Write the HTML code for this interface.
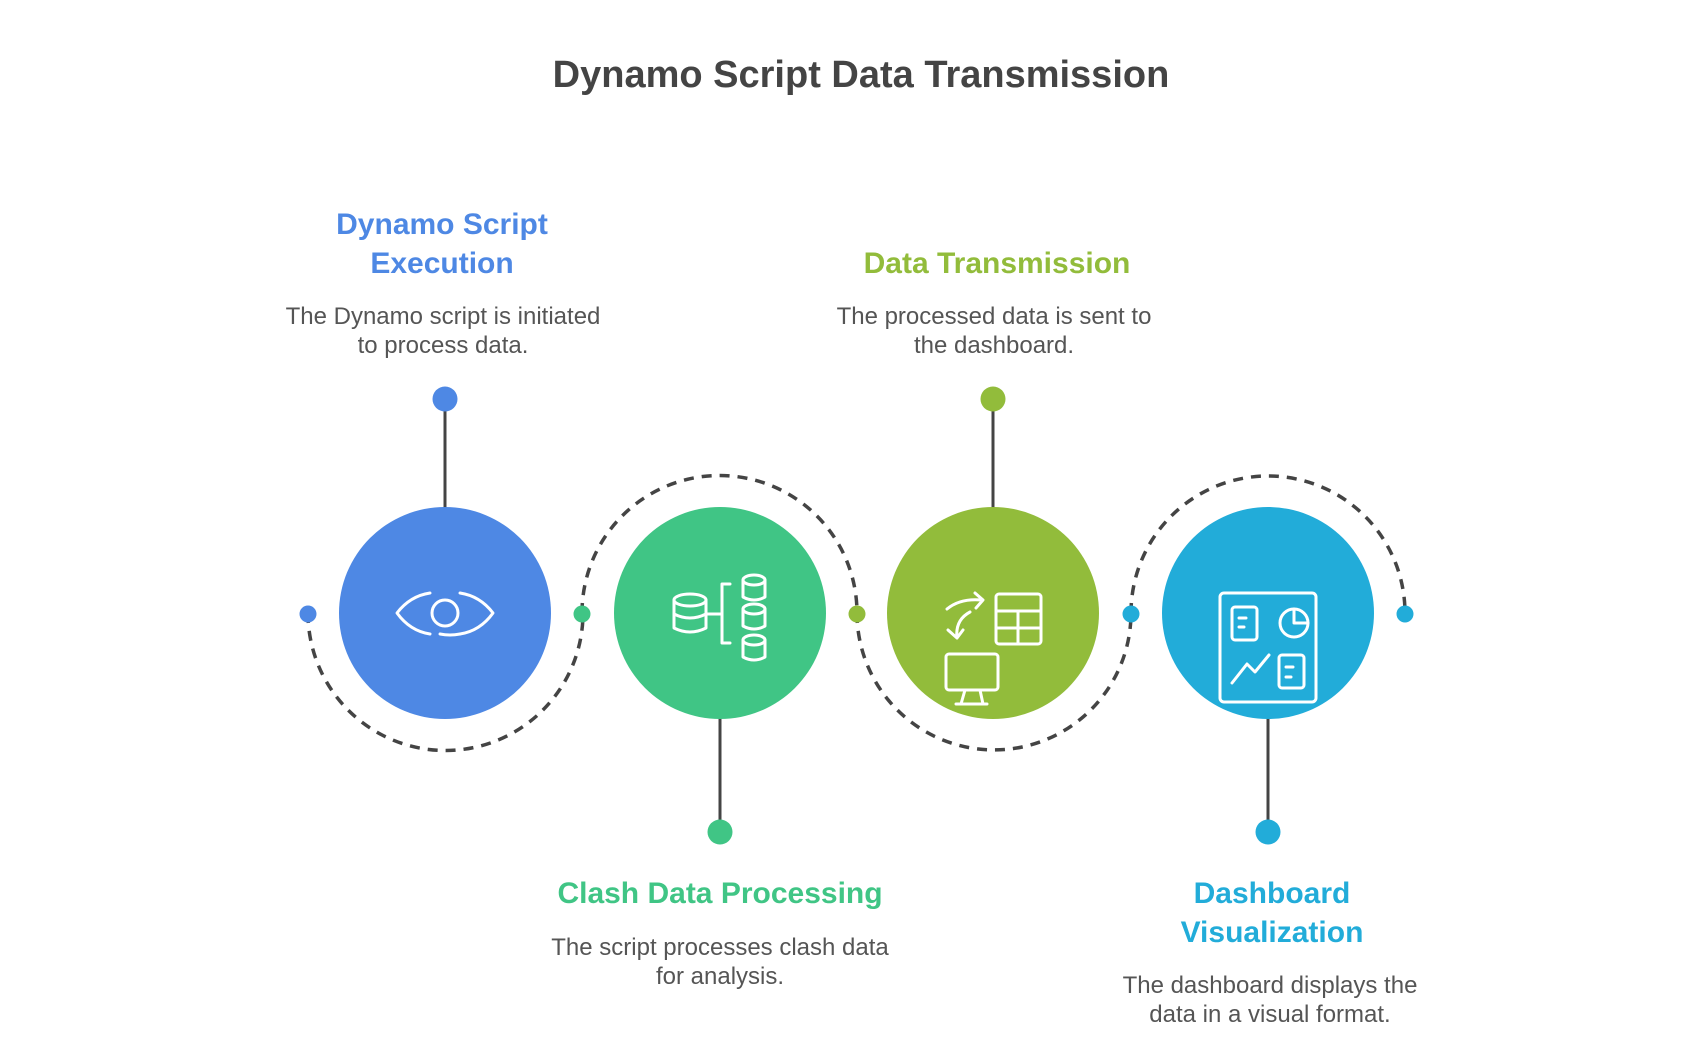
<!DOCTYPE html>
<html><head><meta charset="utf-8"><style>
html,body{margin:0;padding:0;background:#fff;}
body{width:1704px;height:1032px;overflow:hidden;}
svg text{font-family:"Liberation Sans",sans-serif;}
</style></head><body>
<svg width="1704" height="1032" viewBox="0 0 1704 1032" xmlns="http://www.w3.org/2000/svg">
<text x="861" y="87" text-anchor="middle" font-size="38" font-weight="bold" fill="#444">Dynamo Script Data Transmission</text>

<!-- dashed arcs -->
<g fill="none" stroke="#444" stroke-width="3.5" stroke-dasharray="10 8">
<path d="M308 613 A137.5 137.5 0 0 0 583 613"/>
<path d="M582 613 A137.5 137.5 0 0 1 857 613"/>
<path d="M857 613 A137 137 0 0 0 1131 613"/>
<path d="M1131 613 A137 137 0 0 1 1405 613"/>
</g>
<!-- connector lines -->
<g stroke="#444" stroke-width="3">
<line x1="445" y1="400" x2="445" y2="510"/>
<line x1="720" y1="716" x2="720" y2="832"/>
<line x1="993" y1="400" x2="993" y2="510"/>
<line x1="1268" y1="716" x2="1268" y2="832"/>
</g>
<!-- circles -->
<circle cx="445" cy="613" r="106" fill="#4e88e4"/>
<circle cx="720" cy="613" r="106" fill="#40c585"/>
<circle cx="993" cy="613" r="106" fill="#92bc3b"/>
<circle cx="1268" cy="613" r="106" fill="#22acd9"/>
<!-- dots -->
<circle cx="445" cy="399" r="12.5" fill="#4e88e4"/>
<circle cx="720" cy="832" r="12.5" fill="#40c585"/>
<circle cx="993" cy="399" r="12.5" fill="#92bc3b"/>
<circle cx="1268" cy="832" r="12.5" fill="#22acd9"/>
<circle cx="308" cy="614" r="8.5" fill="#4e88e4"/>
<circle cx="582" cy="614" r="8.5" fill="#40c585"/>
<circle cx="857" cy="614" r="8.5" fill="#92bc3b"/>
<circle cx="1131" cy="614" r="8.5" fill="#22acd9"/>
<circle cx="1405" cy="614" r="8.5" fill="#22acd9"/>

<!-- icons -->
<g fill="none" stroke="#fff" stroke-width="3" stroke-linecap="round" stroke-linejoin="round">
<path d="M430 593 Q410 596 397 613 Q410 631 430 634"/>
<path d="M460 593 Q480 596 493 613 Q480 631 460 634"/>
<circle cx="445" cy="613" r="13"/>
<path d="M440 634 Q450 636 460 634"/>
<ellipse cx="690" cy="600" rx="16" ry="6"/>
<path d="M674 600 V628 Q690 636 706 628 V600 M674 614 Q690 622 706 614"/>
<path d="M706 614 H722 M730 584 H722 V643 H730"/>
<g>
<ellipse cx="754" cy="580" rx="11" ry="5"/><path d="M743 580 V597 Q754 603 765 597 V580"/>
<ellipse cx="754" cy="609" rx="11" ry="5"/><path d="M743 609 V626 Q754 632 765 626 V609"/>
<ellipse cx="754" cy="640" rx="11" ry="5"/><path d="M743 640 V657 Q754 663 765 657 V640"/>
</g>
<rect x="996" y="594" width="45" height="50" rx="3"/>
<path d="M996 611 H1041 M996 628 H1041 M1018 611 V644"/>
<path d="M947 609 Q960 598 982 600 M975 593 L983 600 L976 608"/>
<path d="M957 638 L948 630 M957 638 L963 630 M957 638 Q955 620 970 612"/>
<rect x="946" y="654" width="52" height="36" rx="3"/>
<path d="M965 690 L961 704 M980 690 L983 704 M956 704 H987"/>
<rect x="1220" y="593" width="96" height="109" rx="4"/>
<rect x="1232" y="607" width="25" height="33" rx="3"/>
<path d="M1239 618 H1246 M1239 627 H1244"/>
<circle cx="1294" cy="623" r="14"/>
<path d="M1294 609 V623 H1308"/>
<path d="M1232 683 L1247 664 L1255 672 L1269 655"/>
<rect x="1279" y="655" width="25" height="33" rx="3"/>
<path d="M1286 667 H1293 M1286 677 H1291"/>
</g>

<g font-weight="bold" font-size="30" text-anchor="middle">
<text x="442" y="234" fill="#4e88e4">Dynamo Script</text>
<text x="442" y="273" fill="#4e88e4">Execution</text>
<text x="997" y="273" fill="#92bc3b">Data Transmission</text>
<text x="720" y="903" fill="#40c585">Clash Data Processing</text>
<text x="1272" y="903" fill="#22acd9">Dashboard</text>
<text x="1272" y="942" fill="#22acd9">Visualization</text>
</g>
<g font-size="24" fill="#555" text-anchor="middle">
<text x="443" y="324">The Dynamo script is initiated</text>
<text x="443" y="353">to process data.</text>
<text x="994" y="324">The processed data is sent to</text>
<text x="994" y="353">the dashboard.</text>
<text x="720" y="955">The script processes clash data</text>
<text x="720" y="984">for analysis.</text>
<text x="1270" y="993">The dashboard displays the</text>
<text x="1270" y="1022">data in a visual format.</text>
</g>
</svg>
</body></html>
